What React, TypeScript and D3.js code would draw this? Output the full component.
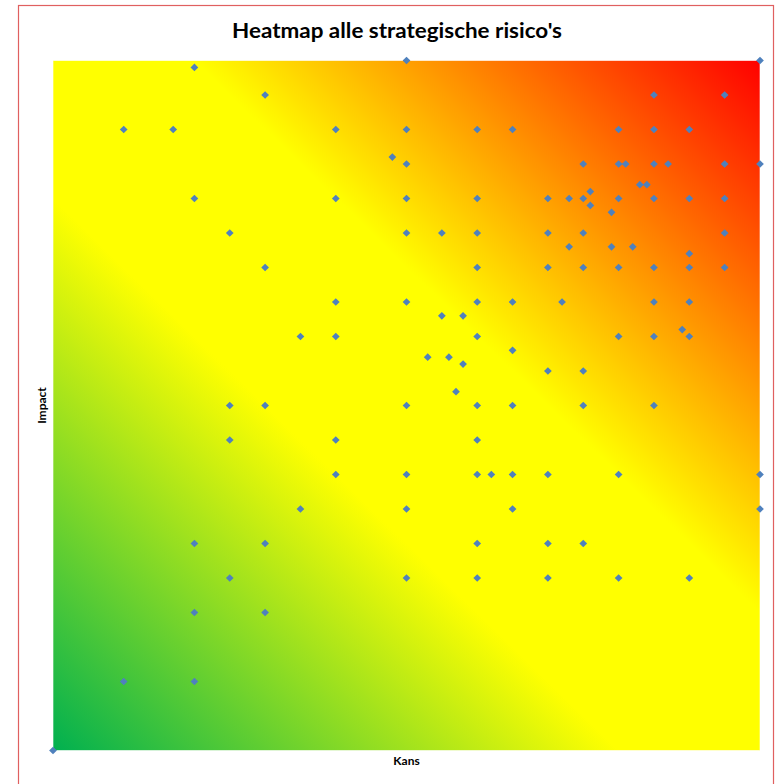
import React from "react";
import * as d3 from "d3";

const title = "Heatmap alle strategische risico's";
const xLabel = "Kans";
const yLabel = "Impact";
const domainMin = 0;
const domainMax = 20;

// Kans (x) and Impact (y) for each risk
const kans: number[] = [
  10, 20, 4, 6, 17, 19,
  2, 3.4, 8, 10, 12, 13, 16, 17, 18,
  9.6,
  10, 15, 16, 16.2, 17, 17.4, 19, 20,
  16.6, 16.8, 15.2,
  4, 8, 10, 12, 14, 14.6, 15, 16, 17, 18, 19,
  15.2, 15.8,
  5, 10, 11, 12, 14, 15, 19,
  14.6, 15.8, 16.4, 18,
  6, 12, 14, 15, 16, 17, 18, 19,
  8, 10, 12, 13, 14.4, 17, 18,
  11, 11.6, 17.8,
  7, 8, 12, 16, 17, 18,
  13, 10.6, 11.2, 11.6,
  14, 15,
  11.4,
  5, 6, 10, 12, 13, 15, 17,
  5, 8, 12,
  8, 10, 12, 12.4, 13, 14, 16, 20,
  7, 10, 13, 20,
  4, 6, 12, 14, 15,
  5, 10, 12, 14, 16, 18,
  4, 6,
  2, 4,
  0,
];
const impact: number[] = [
  20, 20, 19.8, 19, 19, 19,
  18, 18, 18, 18, 18, 18, 18, 18, 18,
  17.2,
  17, 17, 17, 17, 17, 17, 17, 17,
  16.4, 16.4, 16.2,
  16, 16, 16, 16, 16, 16, 16, 16, 16, 16, 16,
  15.8, 15.6,
  15, 15, 15, 15, 15, 15, 15,
  14.6, 14.6, 14.6, 14.4,
  14, 14, 14, 14, 14, 14, 14, 14,
  13, 13, 13, 13, 13, 13, 13,
  12.6, 12.6, 12.2,
  12, 12, 12, 12, 12, 12,
  11.6, 11.4, 11.4, 11.2,
  11, 11,
  10.4,
  10, 10, 10, 10, 10, 10, 10,
  9, 9, 9,
  8, 8, 8, 8, 8, 8, 8, 8,
  7, 7, 7, 7,
  6, 6, 6, 6, 6,
  5, 5, 5, 5, 5, 5,
  4, 4,
  2, 2,
  0,
];

const gradientStops = [
  { offset: 0, color: "#00b050" },
  { offset: 0.4, color: "#ffff00" },
  { offset: 0.6, color: "#ffff00" },
  { offset: 1, color: "#ff0000" },
];

export default function App() {
  const W = 779;
  const H = 784;
  const left = 53;
  const right = 760;
  const top = 60.5;
  const bottom = 750.5;

  const x = d3.scaleLinear().domain([domainMin, domainMax]).range([left, right]);
  const y = d3.scaleLinear().domain([domainMin, domainMax]).range([bottom, top]);
  const marker = d3.symbol(d3.symbolSquare, 30)() as string;

  return (
    <div style={{ position: "absolute", left: 0, top: 0 }}>
      <svg width={W} height={H} style={{ display: "block" }}>
        <defs>
          <linearGradient id="heat" x1="0" y1="1" x2="1" y2="0">
            {gradientStops.map((s, i) => (
              <stop key={i} offset={s.offset} stopColor={s.color} />
            ))}
          </linearGradient>
        </defs>
        <rect x={0} y={0} width={W} height={H} fill="#ffffff" />
        <rect x={18.5} y={5.5} width={755} height={800} fill="#ffffff" stroke="#e06060" strokeWidth={1.2} />
        <text
          x={397}
          y={38}
          textAnchor="middle"
          fontFamily="Lato, 'Open Sans', sans-serif"
          fontWeight="bold"
          fontSize={21}
          fill="#000"
          textLength={330}
          lengthAdjust="spacingAndGlyphs"
        >
          {title}
        </text>
        <rect
          x={x(domainMin)}
          y={y(domainMax)}
          width={x(domainMax) - x(domainMin)}
          height={y(domainMin) - y(domainMax)}
          fill="url(#heat)"
          stroke="rgba(255,255,255,0.6)"
          strokeWidth={1}
        />
        {kans.map((k, i) => (
          <path
            key={i}
            d={marker}
            transform={`translate(${x(k)},${y(impact[i])}) rotate(45)`}
            fill="#4f81bd"
          />
        ))}
        <text
          x={(left + right) / 2}
          y={765}
          textAnchor="middle"
          fontFamily="Lato, 'Open Sans', sans-serif"
          fontWeight="bold"
          fontSize={12}
          fill="#000"
        >
          {xLabel}
        </text>
        <text
          transform={`translate(46,${(top + bottom) / 2}) rotate(-90)`}
          textAnchor="middle"
          fontFamily="Lato, 'Open Sans', sans-serif"
          fontWeight="bold"
          fontSize={12}
          fill="#000"
        >
          {yLabel}
        </text>
      </svg>
    </div>
  );
}
